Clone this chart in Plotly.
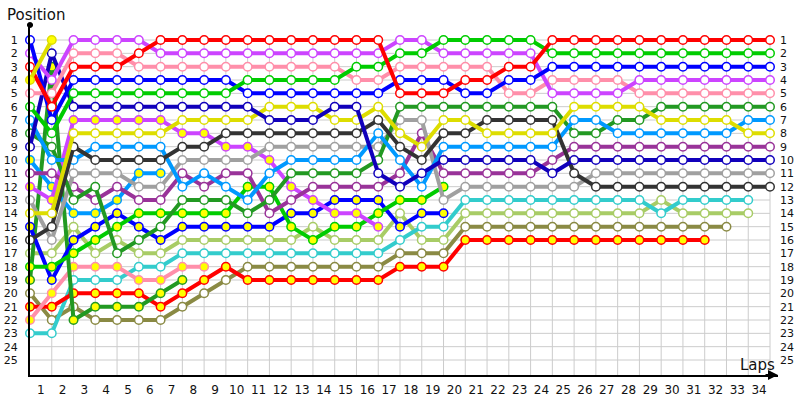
import plotly.graph_objects as go

# ---------------- data ----------------
lap_labels = [str(i) for i in range(1, 35)]
pos_labels = [str(i) for i in range(1, 26)]

red_a = [3, 6, 3, 3, 3, 2, 1, 1, 1, 1, 1, 1, 1, 1, 1, 1, 1, 5, 5, 5, 4, 4, 3, 3, 1, 1, 1, 1, 1, 1, 1, 1, 1, 1, 1]
green_a = [6, 8, 5, 5, 5, 5, 5, 5, 5, 5, 4, 4, 4, 4, 4, 3, 3, 2, 2, 1, 1, 1, 1, 1, 2, 2, 2, 2, 2, 2, 2, 2, 2, 2, 2]
blue_a = [1, 7, 4, 4, 4, 4, 4, 4, 4, 4, 5, 5, 5, 5, 5, 5, 5, 4, 4, 4, 5, 5, 4, 4, 3, 3, 3, 3, 3, 3, 3, 3, 3, 3, 3]
magenta_a = [2, 4, 1, 1, 1, 1, 2, 2, 2, 2, 2, 2, 2, 2, 2, 2, 2, 1, 1, 2, 2, 2, 2, 2, 5, 5, 5, 5, 4, 4, 4, 4, 4, 4, 4]
pink_a = [5, 5, 2, 2, 2, 3, 3, 3, 3, 3, 3, 3, 3, 3, 3, 4, 4, 3, 3, 3, 3, 3, 5, 5, 4, 4, 4, 4, 5, 5, 5, 5, 5, 5, 5]
dkgreen_a = [8, 9, 13, 12, 17, 16, 15, 13, 13, 13, 14, 13, 11, 11, 11, 11, 10, 6, 6, 6, 6, 6, 6, 6, 6, 8, 8, 7, 7, 6, 6, 6, 6, 6, 6]
ltblue_a = [7, 10, 10, 9, 9, 9, 9, 12, 11, 12, 13, 11, 10, 10, 10, 10, 8, 10, 12, 9, 9, 9, 9, 9, 9, 7, 7, 8, 8, 8, 8, 8, 8, 7, 7]
yellow_a = [14, 14, 8, 8, 8, 8, 8, 7, 7, 7, 7, 6, 6, 6, 7, 7, 6, 8, 9, 7, 7, 8, 8, 8, 8, 6, 6, 6, 6, 7, 7, 7, 7, 8, 8]
purple_a = [11, 11, 12, 13, 12, 13, 13, 11, 12, 11, 11, 14, 13, 12, 12, 12, 12, 11, 8, 11, 11, 11, 11, 11, 10, 9, 9, 9, 9, 9, 9, 9, 9, 9, 9]
dkblue_a = [9, 2, 6, 6, 6, 6, 6, 6, 6, 6, 6, 7, 7, 7, 6, 6, 11, 12, 11, 10, 10, 10, 10, 10, 11, 10, 10, 10, 10, 10, 10, 10, 10, 10, 10]
gray_a = [13, 16, 11, 11, 11, 12, 12, 10, 10, 10, 10, 9, 9, 9, 9, 9, 9, 7, 7, 13, 12, 12, 12, 12, 12, 12, 11, 11, 11, 11, 11, 11, 11, 11, 11]
dkgray_a = [16, 15, 9, 10, 10, 10, 10, 9, 9, 8, 8, 8, 8, 8, 8, 8, 7, 9, 10, 8, 8, 7, 7, 7, 7, 11, 12, 12, 12, 12, 12, 12, 12, 12, 12]
cyan_a = [23, 23, 19, 19, 19, 18, 18, 17, 17, 17, 17, 17, 17, 17, 17, 17, 17, 16, 15, 15, 13, 13, 13, 13, 13, 13, 13, 13, 13, 14, 13, 13, 13, 13]
ltolive_a = [17, 17, 15, 17, 16, 17, 17, 16, 16, 16, 16, 16, 16, 15, 16, 16, 16, 14, 16, 16, 14, 14, 14, 14, 14, 14, 14, 14, 14, 13, 14, 14, 14, 14]
olive_a = [20, 22, 21, 22, 22, 22, 22, 21, 20, 19, 18, 18, 18, 18, 18, 18, 18, 17, 17, 17, 15, 15, 15, 15, 15, 15, 15, 15, 15, 15, 15, 15, 15]
red_b = [21, 21, 20, 20, 20, 20, 21, 20, 19, 18, 19, 19, 19, 19, 19, 19, 19, 18, 18, 18, 16, 16, 16, 16, 16, 16, 16, 16, 16, 16, 16, 16]
green_b = [18, 18, 17, 16, 15, 14, 14, 14, 14, 14, 12, 12, 15, 16, 15, 15, 14, 13, 13, 12]
blue_b = [15, 19, 16, 15, 14, 15, 16, 15, 15, 15, 15, 15, 14, 14, 13, 13, 13, 15, 14, 14]
pink_b = [22, 20, 18, 18, 18, 19, 19, 18, 18]
magenta_b = [12, 13, 7, 7, 7, 7, 7, 8, 8, 9, 9, 10, 12, 13, 14, 14, 15]
ltblue_b = [10, 12, 14, 14, 13, 11, 11]
dkgreen_b = [19, 3, 22, 21, 21, 21, 20, 19]
yellow_b = [4, 1]

# (series, colour, marker fill)
drivers = [
    (olive_a, "#8a8a44", "white"),
    (ltolive_a, "#a8cc66", "white"),
    (cyan_a, "#33cccc", "white"),
    (red_b, "#ff0000", "#ffff00"),
    (pink_b, "#ff8faa", "#ffff00"),
    (dkgreen_b, "#229922", "#ffff00"),
    (blue_b, "#0000ff", "#ffff00"),
    (green_b, "#00cc00", "#ffff00"),
    (ltblue_b, "#0099ff", "#ffff00"),
    (magenta_b, "#cc44ff", "#ffff00"),
    (purple_a, "#993399", "white"),
    (gray_a, "#a0a0a0", "white"),
    (dkgreen_a, "#229922", "white"),
    (ltblue_a, "#0099ff", "white"),
    (dkgray_a, "#333333", "white"),
    (yellow_a, "#dddd00", "white"),
    (dkblue_a, "#1100bb", "white"),
    (pink_a, "#ff8faa", "white"),
    (magenta_a, "#cc44ff", "white"),
    (blue_a, "#0000ff", "white"),
    (green_a, "#00cc00", "white"),
    (red_a, "#ff0000", "white"),
    (yellow_b, "#dddd00", "#ffff00"),
]

fig = go.Figure()
for vals, col, fill in drivers:
    fig.add_trace(go.Scatter(
        x=list(range(len(vals))), y=vals, mode="lines+markers",
        line=dict(color=col, width=4),
        marker=dict(size=8.5, color=fill, line=dict(color=col, width=1.5)),
        showlegend=False, hoverinfo="skip", cliponaxis=False,
    ))

# right-side axis labels
fig.add_trace(go.Scatter(x=[None], y=[None], yaxis="y2", showlegend=False))

n_laps = len(lap_labels)
n_pos = len(pos_labels)
shapes = []
for k in range(1, n_laps + 1):
    shapes.append(dict(type="line", xref="x", yref="y", x0=k, x1=k, y0=1, y1=26.125,
                       line=dict(color="#cccccc", width=1), layer="below"))
for p in range(1, n_pos + 1):
    shapes.append(dict(type="line", xref="x", yref="y", x0=0, x1=n_laps, y0=p, y1=p,
                       line=dict(color="#cccccc", width=1), layer="below"))
shapes.append(dict(type="circle", xref="paper", yref="paper", x0=-0.0035, x1=0.0035,
                   y0=0.993, y1=1.007, fillcolor="black", line=dict(color="black", width=1)))

xmax = 748 / (740 / 34)
fig.update_layout(
    width=800, height=400,
    margin=dict(l=30, r=22, t=25, b=25, autoexpand=False),
    plot_bgcolor="white", paper_bgcolor="white",
    font=dict(family="DejaVu Sans", color="#111111"),
    shapes=shapes,
    xaxis=dict(range=[0, xmax], showgrid=False, zeroline=False, automargin=False,
               tickvals=[k - 0.5 for k in range(1, n_laps + 1)], ticktext=lap_labels,
               ticks="", tickfont=dict(size=12, color="#111111"),
               showline=True, linecolor="black", linewidth=2, ticklabelstandoff=3),
    yaxis=dict(range=[26.125, -0.125], showgrid=False, zeroline=False, automargin=False,
               tickvals=list(range(1, n_pos + 1)), ticktext=pos_labels,
               ticks="", tickfont=dict(size=11, color="#111111"),
               showline=True, linecolor="black", linewidth=2, ticklabelstandoff=8),
    yaxis2=dict(range=[26.125, -0.125], overlaying="y", side="right", showgrid=False,
                zeroline=False, automargin=False, tickvals=list(range(1, n_pos + 1)),
                ticktext=pos_labels, ticks="", tickfont=dict(size=11, color="#111111"),
                showline=False, ticklabelstandoff=1),
    annotations=[
        dict(text="Position", xref="paper", yref="paper", x=-0.034, y=1.029,
             xanchor="left", yanchor="middle", showarrow=False,
             font=dict(size=15, color="#111111")),
        dict(text="Laps", xref="paper", yref="paper", x=0.999, y=0.03,
             xanchor="right", yanchor="middle", showarrow=False,
             font=dict(size=15, color="#111111")),
        dict(text="", xref="paper", yref="paper", x=1.0, y=0.0, ax=-14, ay=0,
             showarrow=True, arrowhead=2, arrowsize=1, arrowwidth=2, arrowcolor="black"),
    ],
)

fig.write_html("out.html", config={"displayModeBar": False},
               post_script="document.body.style.margin='0px';document.body.style.overflow='hidden';")
